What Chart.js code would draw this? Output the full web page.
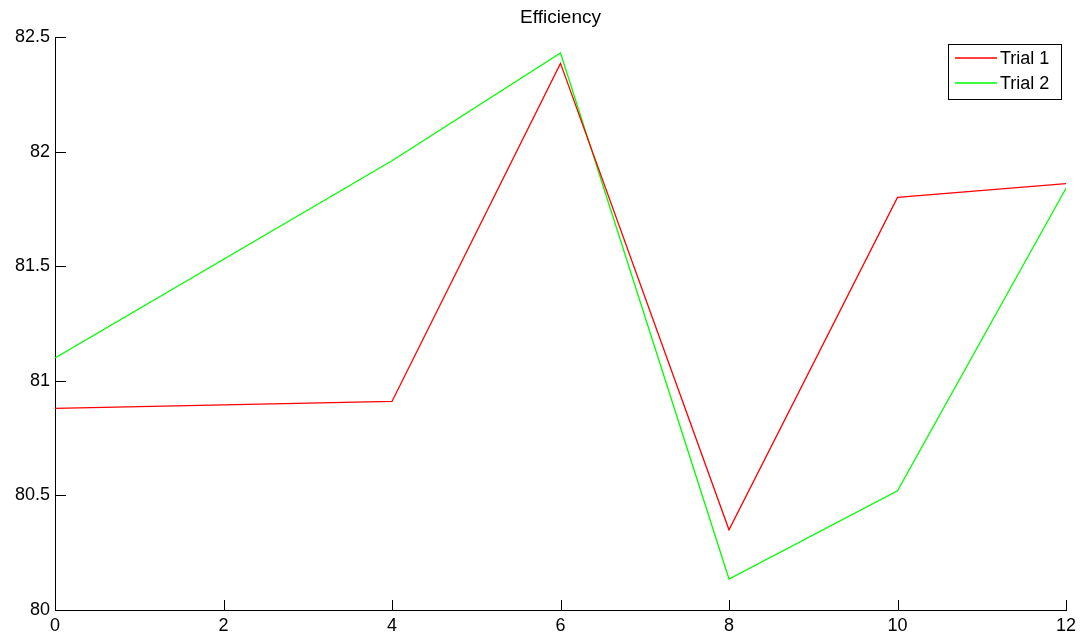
<!DOCTYPE html>
<html>
<head>
<meta charset="utf-8">
<script src="https://cdn.jsdelivr.net/npm/chart.js@4/dist/chart.umd.min.js"></script>
<style>
  html, body { margin: 0; padding: 0; background: #ffffff; }
  #wrap { width: 1085px; height: 635px; position: relative; }
</style>
</head>
<body>
<div id="wrap"><canvas id="c" width="1085" height="635"></canvas></div>
<script>
// Efficiency measured at each setting for two trials
const xValues = [0, 4, 6, 8, 10, 12];
const trial1 = [80.88, 80.91, 82.385, 80.35, 81.80, 81.86];
const trial2 = [81.10, 81.96, 82.43, 80.135, 80.52, 81.84];
const seriesLabels = ['Trial 1', 'Trial 2'];
const seriesColors = ['#ff0000', '#00ff00'];
const xTicks = [0, 2, 4, 6, 8, 10, 12];
const yTicks = [80, 80.5, 81, 81.5, 82, 82.5];
const chartTitle = 'Efficiency';

const FONT = '"Liberation Sans", Arial, Helvetica, sans-serif';

function toPoints(ys) {
  return xValues.map((x, i) => ({ x: x, y: ys[i] }));
}

// Short tick marks drawn on the inside of the axes, plus title and boxed legend
const axesDecor = {
  id: 'axesDecor',
  afterDraw(chart) {
    const ctx = chart.ctx;
    const area = chart.chartArea;
    const xs = chart.scales.x;
    const ys = chart.scales.y;
    ctx.save();
    ctx.strokeStyle = '#000000';
    ctx.lineWidth = 1;
    ctx.beginPath();
    xTicks.forEach(v => {
      const px = Math.round(xs.getPixelForValue(v)) + 0.5;
      ctx.moveTo(px, area.bottom);
      ctx.lineTo(px, area.bottom - 10);
    });
    yTicks.forEach(v => {
      const py = Math.round(ys.getPixelForValue(v)) + 0.5;
      ctx.moveTo(area.left, py);
      ctx.lineTo(area.left + 11, py);
    });
    ctx.stroke();

    // title
    ctx.fillStyle = '#000000';
    ctx.font = '19px ' + FONT;
    ctx.textAlign = 'center';
    ctx.textBaseline = 'alphabetic';
    ctx.fillText(chartTitle, (area.left + area.right) / 2, 23);

    // legend box in the upper right corner
    const bx = 948, by = 44, bw = 113, bh = 55;
    ctx.fillStyle = '#ffffff';
    ctx.fillRect(bx, by, bw, bh);
    ctx.strokeStyle = '#000000';
    ctx.lineWidth = 1;
    ctx.strokeRect(bx + 0.5, by + 0.5, bw, bh);
    ctx.font = '18px ' + FONT;
    chart.data.datasets.forEach((ds, i) => {
      const ly = 58 + i * 25;
      ctx.strokeStyle = ds.borderColor;
      ctx.lineWidth = 1.5;
      ctx.beginPath();
      ctx.moveTo(955, ly);
      ctx.lineTo(997, ly);
      ctx.stroke();
      ctx.fillStyle = '#000000';
      ctx.textAlign = 'left';
      ctx.textBaseline = 'middle';
      ctx.fillText(ds.label, 1000, ly + 1);
    });
    ctx.restore();
  }
};

new Chart(document.getElementById('c'), {
  type: 'line',
  data: {
    datasets: [
      { label: seriesLabels[0], data: toPoints(trial1), borderColor: seriesColors[0] },
      { label: seriesLabels[1], data: toPoints(trial2), borderColor: seriesColors[1] }
    ].map(d => Object.assign(d, {
      borderWidth: 1.3,
      pointRadius: 0,
      tension: 0,
      fill: false
    }))
  },
  options: {
    responsive: false,
    animation: false,
    layout: { padding: { top: 37, right: 19, left: 0, bottom: 0 } },
    plugins: {
      legend: { display: false },
      title: { display: false },
      tooltip: { enabled: false }
    },
    scales: {
      x: {
        type: 'linear',
        min: 0,
        max: 12,
        afterBuildTicks(scale) { scale.ticks = xTicks.map(v => ({ value: v })); },
        afterFit(scale) { scale.height = 25; },
        grid: { display: false, drawTicks: false },
        border: { display: true, color: '#000000', width: 1 },
        ticks: {
          color: '#000000',
          font: { family: FONT, size: 18 },
          padding: 5,
          maxRotation: 0,
          autoSkip: false,
          callback: v => String(v)
        }
      },
      y: {
        type: 'linear',
        min: 80,
        max: 82.5,
        afterBuildTicks(scale) { scale.ticks = yTicks.map(v => ({ value: v })); },
        afterFit(scale) { scale.width = 55; },
        grid: { display: false, drawTicks: false },
        border: { display: true, color: '#000000', width: 1 },
        ticks: {
          color: '#000000',
          font: { family: FONT, size: 18 },
          padding: 5,
          autoSkip: false,
          callback: v => String(v)
        }
      }
    }
  },
  plugins: [axesDecor]
});
</script>
</body>
</html>
